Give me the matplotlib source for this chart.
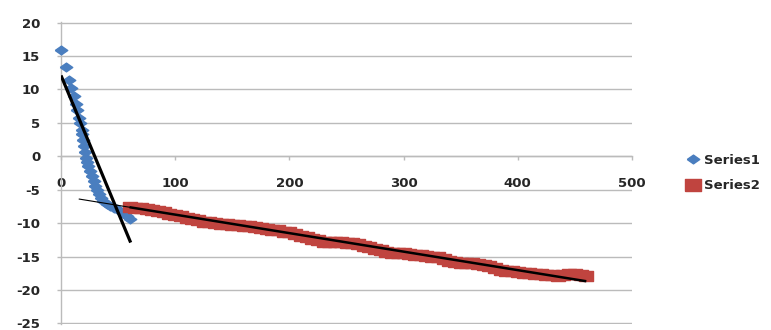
import numpy as np
import matplotlib
matplotlib.use("Agg")
import matplotlib.pyplot as plt
from matplotlib.lines import Line2D

plt.rcParams["font.family"] = ["DejaVu Sans"]
plt.rcParams["axes.unicode_minus"] = False

# Series1: steep early drop
s1_x = [0, 4, 7, 9, 11, 13, 14, 16, 17, 18, 18.5, 19, 20, 21, 22, 23, 24, 25.5, 27,
        28.5, 30, 31.5, 33, 35, 37, 40, 43, 46, 49, 52, 55, 58, 60]
s1_y = [15.9, 13.3, 11.4, 10.2, 9.0, 7.8, 7.0, 5.8, 5.0, 4.0, 3.3, 2.4, 1.5, 0.6, -0.2,
        -0.8, -1.4, -2.2, -2.9, -3.7, -4.4, -5.1, -5.7, -6.3, -6.7, -7.1, -7.4, -7.7,
        -7.9, -8.2, -8.6, -9.0, -9.4]

# Series2: slow stepped decline
s2_x = list(range(60, 461, 5))
s2_y = [-7.6, -7.7, -7.8, -7.9, -8.1, -8.2, -8.4, -8.6, -8.8, -9.0, -9.2, -9.4, -9.6,
        -9.8, -9.9, -10.0, -10.1, -10.2, -10.3, -10.3, -10.4, -10.5, -10.6, -10.7,
        -10.9, -11.0, -11.1, -11.3, -11.4, -11.6, -11.9, -12.1, -12.4, -12.6, -12.8,
        -12.9, -12.9, -12.9, -13.0, -13.0, -13.2, -13.4, -13.6, -13.8, -14.0, -14.3,
        -14.4, -14.5, -14.5, -14.6, -14.7, -14.8, -14.9, -15.0, -15.1, -15.3, -15.6,
        -15.8, -15.9, -16.0, -16.0, -16.1, -16.3, -16.4, -16.7, -17.0, -17.1, -17.2,
        -17.3, -17.4, -17.5, -17.6, -17.6, -17.8, -17.8, -17.9, -17.7, -17.6, -17.6,
        -17.8, -17.9]

# linear trendlines (slope, intercept) and the x spans they cover
trend1 = [-0.41, 12.1]
trend1_span = [0, 61]
trend2 = [-0.0277, -5.96]
trend2_back = [16, 60]
trend2_span = [60, 460]

y_ticks = list(range(-25, 21, 5))
x_ticks = list(range(0, 501, 100))

BLUE = "#4A7EBF"
RED = "#C0443F"
GRID = "#BBBBBB"
TXT = "#262626"

# horizontally stretched diamond / box markers
diamond = [(-1, 0), (0, 0.7), (1, 0), (0, -0.7), (-1, 0)]
box = [(-1, -0.75), (1, -0.75), (1, 0.75), (-1, 0.75), (-1, -0.75)]

fig = plt.figure(figsize=(7.71, 3.30), dpi=100)
ax = fig.add_axes([61 / 771, 6 / 330, 571 / 771, 302 / 330])
ax.set_xlim(0, 500)
ax.set_ylim(-25.1, 20.1)

ax.plot(s1_x, s1_y, ls="none", marker=diamond, ms=9, color=BLUE, mec=BLUE,
        clip_on=False, zorder=3)
ax.plot(s2_x, s2_y, ls="none", marker=box, ms=10, color=RED, mec=RED,
        clip_on=False, zorder=3)

def line_on(coef, span):
    xs = np.array(span, dtype=float)
    return xs, np.polyval(coef, xs)

ax.plot(*line_on(trend1, trend1_span), color="black", lw=2.3, zorder=4,
        solid_capstyle="butt")
ax.plot(*line_on(trend2, trend2_back), color="black", lw=0.8, zorder=4)
ax.plot(*line_on(trend2, trend2_span), color="black", lw=1.8, zorder=4,
        solid_capstyle="butt")

# Excel-style axes: y axis at left, x axis crossing at zero
for side in ("top", "right"):
    ax.spines[side].set_visible(False)
ax.spines["bottom"].set_position(("data", 0))
for side in ("left", "bottom"):
    ax.spines[side].set_color(GRID)
    ax.spines[side].set_linewidth(1.0)

ax.set_yticks(y_ticks)
ax.set_yticklabels([str(v) for v in y_ticks])
ax.set_xticks(x_ticks)
ax.set_xticklabels([str(v) for v in x_ticks])
ax.tick_params(axis="y", length=3, width=1, color=GRID, pad=12,
               labelsize=9.5, labelcolor=TXT)
ax.tick_params(axis="x", length=3, width=1, color=GRID, pad=12,
               labelsize=9.5, labelcolor=TXT)
for lab in ax.get_xticklabels() + ax.get_yticklabels():
    lab.set_fontweight("bold")

ax.yaxis.grid(True, color=GRID, lw=1.0)
ax.set_axisbelow(True)

handles = [
    Line2D([], [], ls="none", marker=diamond, ms=9, color=BLUE, mec=BLUE),
    Line2D([], [], ls="none", marker=box, ms=11, color=RED, mec=RED),
]
leg = fig.legend(handles, ["Series1", "Series2"], loc="upper left",
                 bbox_to_anchor=(675 / 771, 1 - 142 / 330), frameon=False,
                 handlelength=1.0, handletextpad=0.3, labelspacing=0.95,
                 prop={"size": 9.5, "weight": "bold"})
for t in leg.get_texts():
    t.set_color(TXT)

fig.savefig("out.png", dpi=100)
